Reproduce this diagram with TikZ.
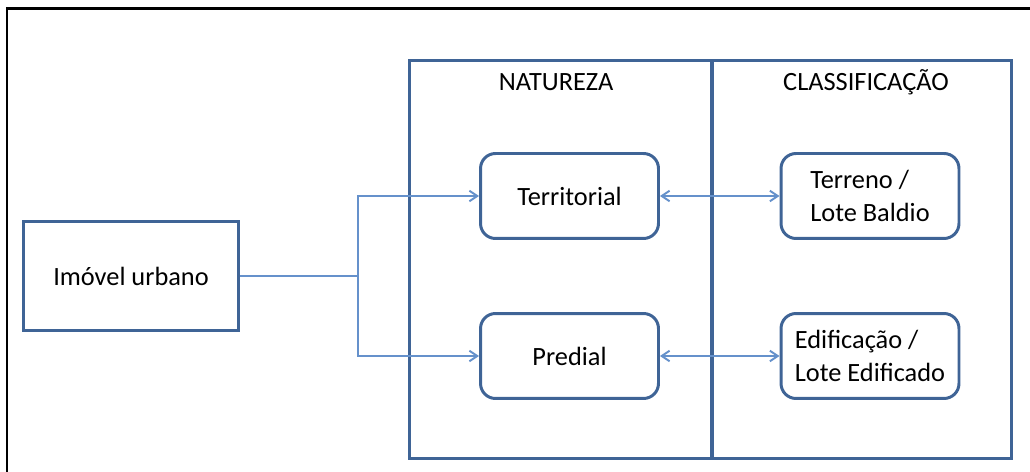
\documentclass[tikz,border=0pt]{standalone}
\usepackage{fontspec}
\setmainfont{Carlito}
\usetikzlibrary{positioning, arrows.meta}

\definecolor{boxblue}{HTML}{3F6496}
\definecolor{linkblue}{HTML}{6591CB}

\begin{document}
\begin{tikzpicture}[x=0.02cm, y=-0.02cm,
    every node/.style={font=\fontsize{15}{19}\selectfont},
    mainbox/.style={rectangle, draw=boxblue, line width=1.7pt, minimum width=4.3cm, minimum height=2.18cm},
    panel/.style={rectangle, draw=boxblue, line width=1.7pt, minimum height=7.98cm},
    item/.style={rectangle, rounded corners=0.3cm, draw=boxblue, line width=1.7pt, minimum width=3.56cm, minimum height=1.7cm, align=left},
    title/.style={anchor=base},
    link/.style={draw=linkblue, line width=1.1pt},
    >={Straight Barb[length=4.5pt, width=6pt]}]
            \useasboundingbox (0,0) rectangle (1030,472);

            % Frame
            \draw[line width=0.7pt] (7,472) -- (7,9);
            \draw[line width=1.7pt] (6,9) -- (1030,9);

            % Nodes
            \node (natureza) [panel, minimum width=6.06cm] at (560.5,259.5) {};
            \node (classificacao) [panel, minimum width=6cm] at (862,259.5) {};
            \node (natTitle) [title] at (556,91) {NATUREZA};
            \node (clsTitle) [title] at (866,91) {CLASSIFICAÇÃO};

            \node (imovel) [mainbox] at (131,276) {Imóvel urbano};
            \node (territorial) [item] at (569.5,196) {Territorial};
            \node (predial) [item] at (569.5,356) {Predial};
            \node (terreno) [item] at (870,196) {Terreno /\\Lote Baldio};
            \node (edificacao) [item] at (870,356) {Edificação /\\Lote Edificado};
            \coordinate (fork) at (358,276);

            % Arrows
            \draw[link] (imovel.east) -- (fork);
            \draw[link, ->] (fork) |- (territorial.west);
            \draw[link, ->] (fork) |- (predial.west);
            \draw[link, <->] (territorial) -- (terreno);
            \draw[link, <->] (predial) -- (edificacao);

\end{tikzpicture}
\end{document}
